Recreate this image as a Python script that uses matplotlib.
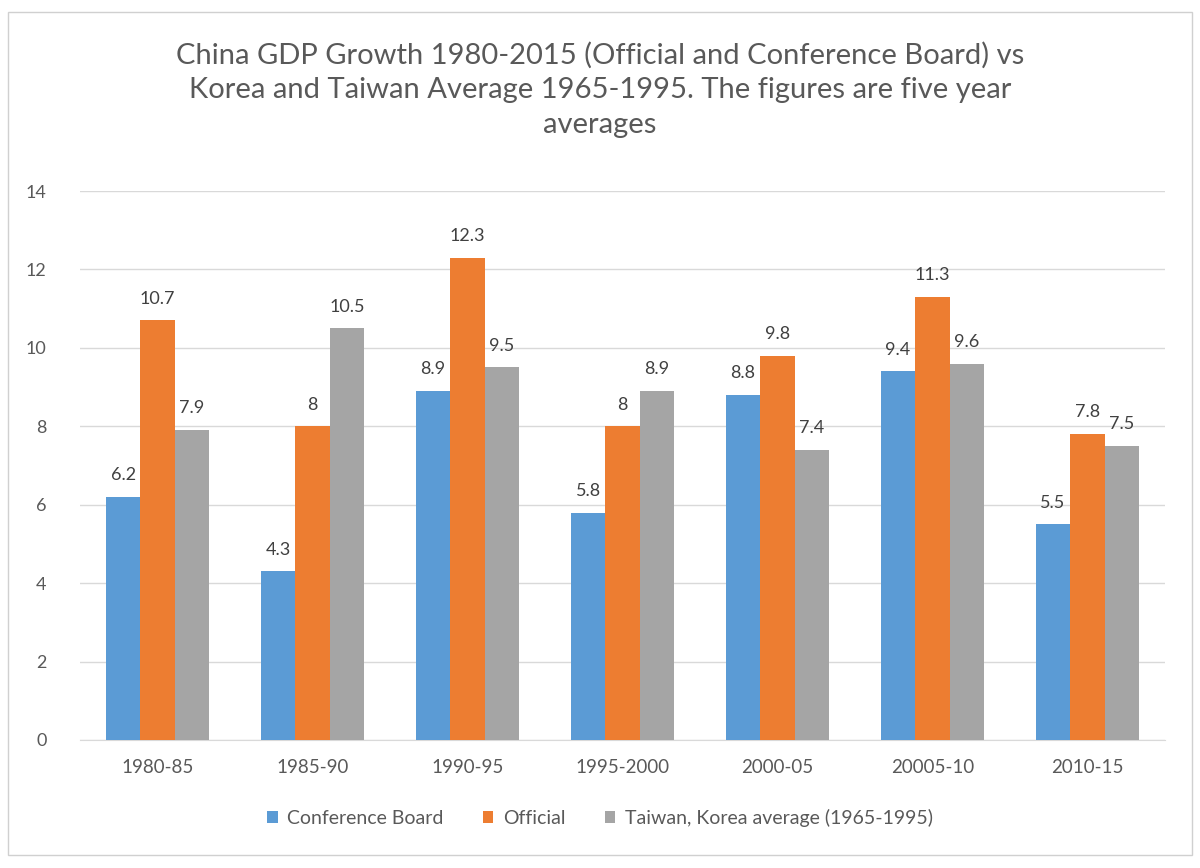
import matplotlib
matplotlib.use("Agg")
import matplotlib.pyplot as plt
import numpy as np
from matplotlib.patches import Rectangle

categories = ["1980-85", "1985-90", "1990-95", "1995-2000", "2000-05", "20005-10", "2010-15"]
conference_board = [6.2, 4.3, 8.9, 5.8, 8.8, 9.4, 5.5]
official = [10.7, 8, 12.3, 8, 9.8, 11.3, 7.8]
taiwan_korea = [7.9, 10.5, 9.5, 8.9, 7.4, 9.6, 7.5]
series_names = ["Conference Board", "Official", "Taiwan, Korea average (1965-1995)"]
colors = ["#5B9BD5", "#ED7D31", "#A5A5A5"]
title = ("China GDP Growth 1980-2015 (Official and Conference Board) vs\n"
         "Korea and Taiwan Average 1965-1995. The figures are five year\n"
         "averages")

plt.rcParams['font.family'] = ['Lato', 'DejaVu Sans']

fig = plt.figure(figsize=(12, 8.68), dpi=100)
fig.patch.set_facecolor("white")
fig.add_artist(Rectangle((8/1200, 13/868), 1184/1200, 843/868, transform=fig.transFigure,
                         fill=False, edgecolor="#D0D0D0", linewidth=1))

ax = fig.add_axes([80/1200, 1 - 740/868, 1085/1200, (740 - 191)/868])
x = np.arange(len(categories))
w = 0.222
data = [conference_board, official, taiwan_korea]
for i, (vals, c, name) in enumerate(zip(data, colors, series_names)):
    pos = x + (i - 1) * w
    ax.bar(pos, vals, width=w, color=c, label=name, zorder=3)
    for p, v in zip(pos, vals):
        ax.text(p, v + 0.35, f"{v:g}", ha="center", va="bottom", fontsize=13, color="#404040")

ax.set_xlim(-0.5, len(categories) - 0.5)
ax.set_ylim(0, 14)
ax.set_yticks(range(0, 15, 2))
ax.set_xticks(x)
ax.set_xticklabels(categories)
ax.tick_params(axis="both", length=0, labelsize=13, colors="#595959")
ax.tick_params(axis="x", pad=14, labelsize=13.5)
ax.tick_params(axis="y", pad=24)
ax.grid(axis="y", color="#D9D9D9", linewidth=1, zorder=0)
for s in ["top", "right", "left"]:
    ax.spines[s].set_visible(False)
ax.spines["bottom"].set_color("#D9D9D9")

fig.text(0.5, 1 - 90/868, title, ha="center", va="center", fontsize=21, color="#595959",
         linespacing=1.4)

leg = fig.legend(loc="center", bbox_to_anchor=(0.5, 1 - 818/868), ncol=3, frameon=False,
                 fontsize=14, handlelength=0.55, handleheight=0.55, columnspacing=2.0,
                 handletextpad=0.5)
for t in leg.get_texts():
    t.set_color("#595959")

fig.savefig("out.png", dpi=100)
